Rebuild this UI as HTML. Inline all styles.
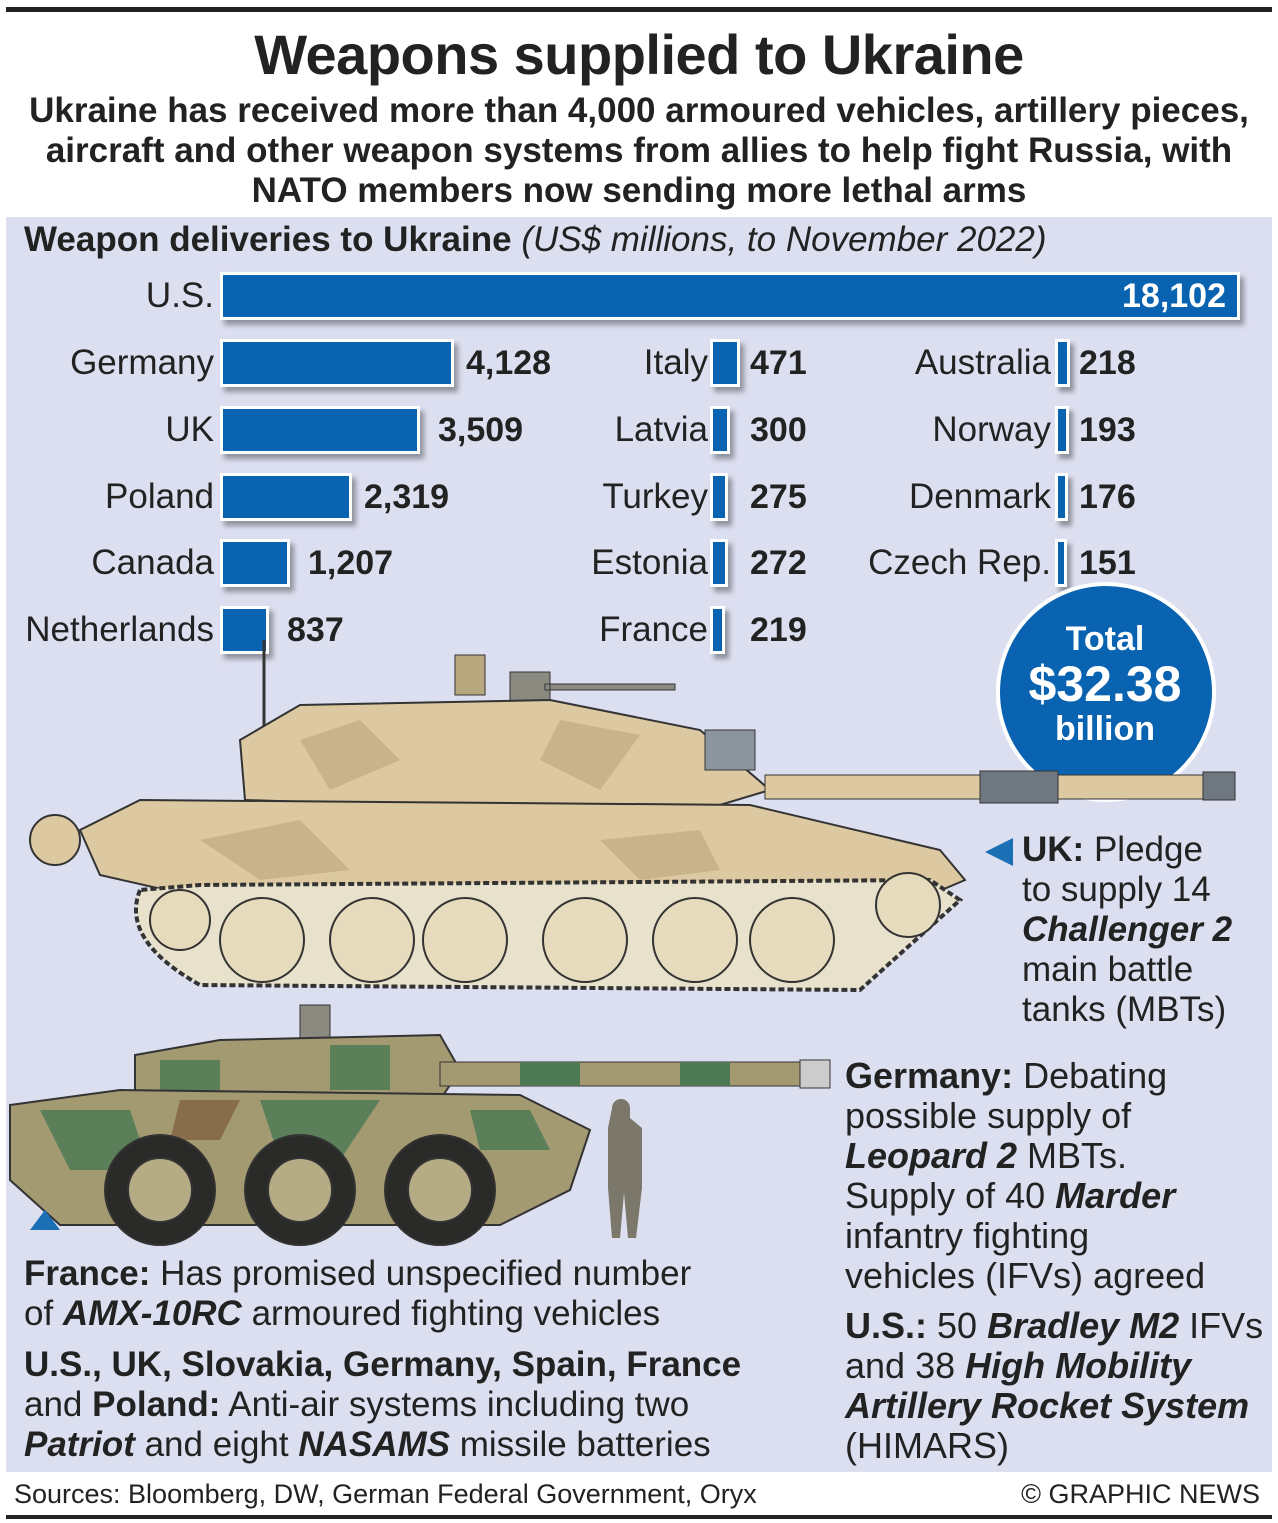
<!DOCTYPE html>
<html><head><meta charset="utf-8"><style>
body{margin:0;width:1278px;height:1523px;background:#fff;position:relative;overflow:hidden;font-family:"Liberation Sans",Arial,sans-serif;color:#222}
.a{position:absolute;white-space:nowrap}
.bar{position:absolute;background:#0a63b0;border:3px solid #fff;box-shadow:4px 5px 5px rgba(0,0,0,.35);box-sizing:border-box;height:48px}
.lab{position:absolute;font-size:35px;text-align:right;width:300px;line-height:48px}
.val{position:absolute;font-size:34px;font-weight:bold;line-height:48px}
.t{font-size:35px;line-height:40px}
</style></head><body>
<div class="a" style="left:6px;top:7px;width:1266px;height:5px;background:#222"></div>
<div class="a" style="left:0;width:1278px;top:22px;text-align:center;font-size:56px;font-weight:bold;letter-spacing:-0.5px">Weapons supplied to Ukraine</div>
<div class="a" style="left:0;width:1278px;top:91px;text-align:center;font-size:35px;font-weight:bold;line-height:40px">Ukraine has received more than 4,000 armoured vehicles, artillery pieces,<br>aircraft and other weapon systems from allies to help fight Russia, with<br>NATO members now sending more lethal arms</div>
<div class="a" style="left:6px;top:217px;width:1266px;height:1255px;background:#dcdff0"></div>
<div class="a" style="left:24px;top:220px;font-size:35px;line-height:40px"><b>Weapon deliveries to Ukraine</b> <i>(US$ millions, to November 2022)</i></div>

<div class="lab" style="left:-86px;top:272px">U.S.</div><div class="bar" style="left:220px;top:272px;width:1020px"></div><div class="val" style="left:1122px;top:272px;color:#fff">18,102</div>

<div class="lab" style="left:-86px;top:339px">Germany</div><div class="bar" style="left:220px;top:339px;width:234px"></div><div class="val" style="left:466px;top:339px">4,128</div>
<div class="lab" style="left:-86px;top:406px">UK</div><div class="bar" style="left:220px;top:406px;width:200px"></div><div class="val" style="left:438px;top:406px">3,509</div>
<div class="lab" style="left:-86px;top:473px">Poland</div><div class="bar" style="left:220px;top:473px;width:132px"></div><div class="val" style="left:364px;top:473px">2,319</div>
<div class="lab" style="left:-86px;top:539px">Canada</div><div class="bar" style="left:220px;top:539px;width:70px"></div><div class="val" style="left:308px;top:539px">1,207</div>
<div class="lab" style="left:-86px;top:606px">Netherlands</div><div class="bar" style="left:220px;top:606px;width:49px"></div><div class="val" style="left:287px;top:606px">837</div>

<div class="lab" style="left:408px;top:339px">Italy</div><div class="bar" style="left:710px;top:339px;width:30px"></div><div class="val" style="left:750px;top:339px">471</div>
<div class="lab" style="left:408px;top:406px">Latvia</div><div class="bar" style="left:710px;top:406px;width:20px"></div><div class="val" style="left:750px;top:406px">300</div>
<div class="lab" style="left:408px;top:473px">Turkey</div><div class="bar" style="left:710px;top:473px;width:18px"></div><div class="val" style="left:750px;top:473px">275</div>
<div class="lab" style="left:408px;top:539px">Estonia</div><div class="bar" style="left:710px;top:539px;width:18px"></div><div class="val" style="left:750px;top:539px">272</div>
<div class="lab" style="left:408px;top:606px">France</div><div class="bar" style="left:710px;top:606px;width:15px"></div><div class="val" style="left:750px;top:606px">219</div>

<div class="lab" style="left:751px;top:339px">Australia</div><div class="bar" style="left:1055px;top:339px;width:15px"></div><div class="val" style="left:1079px;top:339px">218</div>
<div class="lab" style="left:751px;top:406px">Norway</div><div class="bar" style="left:1055px;top:406px;width:14px"></div><div class="val" style="left:1079px;top:406px">193</div>
<div class="lab" style="left:751px;top:473px">Denmark</div><div class="bar" style="left:1055px;top:473px;width:13px"></div><div class="val" style="left:1079px;top:473px">176</div>
<div class="lab" style="left:751px;top:539px">Czech Rep.</div><div class="bar" style="left:1055px;top:539px;width:12px"></div><div class="val" style="left:1079px;top:539px">151</div>

<svg class="a" style="left:0;top:0" width="1278" height="1523">
<circle cx="1106" cy="692" r="108" fill="#0a63b0" stroke="#fff" stroke-width="4"/>
<line x1="264" y1="640" x2="264" y2="735" stroke="#333" stroke-width="3"/>
<rect x="455" y="655" width="30" height="40" fill="#b8a880" stroke="#333"/>
<path d="M510 672h40v30h-40z M545 684h130v6h-130z" fill="#8a8a80" stroke="#333"/>
<path d="M240 740 L300 705 L550 700 L700 730 L770 790 L720 805 L400 805 L245 800Z" fill="#dcc9a2" stroke="#333" stroke-width="2"/>
<path d="M300 740 L360 720 L400 760 L330 790Z M560 720 L640 735 L600 790 L540 760Z" fill="#c3ae86" opacity=".8"/>
<rect x="705" y="730" width="50" height="40" fill="#8c959e" stroke="#333"/>
<rect x="765" y="775" width="220" height="24" fill="#dcc9a2" stroke="#333"/>
<rect x="980" y="771" width="78" height="32" fill="#6f7780" stroke="#333"/>
<rect x="1058" y="775" width="145" height="24" fill="#dcc9a2" stroke="#333"/>
<rect x="1203" y="772" width="32" height="28" fill="#6f7780" stroke="#333"/>
<path d="M80 830 L140 800 L750 805 L940 850 L965 880 L930 895 L210 900 L100 875Z" fill="#dcc9a2" stroke="#333" stroke-width="2"/>
<path d="M200 840 L300 820 L350 870 L260 880Z M600 840 L700 830 L720 870 L640 880Z" fill="#c3ae86" opacity=".8"/>
<circle cx="55" cy="840" r="25" fill="#dcc9a2" stroke="#333" stroke-width="2"/>
<path d="M140 890 Q120 940 200 985 L860 990 L960 900 L930 880 L200 885Z" fill="#e8e2cc" stroke="#333" stroke-width="4" stroke-dasharray="6 3"/>
<g fill="#e6dbbd" stroke="#333" stroke-width="2">
<circle cx="262" cy="940" r="42"/><circle cx="372" cy="940" r="42"/><circle cx="465" cy="940" r="42"/><circle cx="585" cy="940" r="42"/><circle cx="695" cy="940" r="42"/><circle cx="792" cy="940" r="42"/><circle cx="908" cy="905" r="32"/><circle cx="180" cy="920" r="30"/></g>
<rect x="300" y="1005" width="30" height="38" fill="#8a8a80" stroke="#333"/>
<path d="M135 1055 L220 1040 L440 1035 L460 1070 L440 1100 L135 1100Z" fill="#a49a72" stroke="#333" stroke-width="2"/>
<path d="M160 1060 h60 v30 h-60z M330 1045 h60 v45 h-60z" fill="#4d7a55" opacity=".85"/>
<rect x="440" y="1062" width="370" height="24" fill="#a49a72" stroke="#333"/>
<path d="M520 1062h60v24h-60z M680 1062h50v24h-50z" fill="#4d7a55"/>
<rect x="800" y="1060" width="30" height="28" fill="#ccc" stroke="#333"/>
<path d="M10 1105 L120 1090 L520 1095 L590 1130 L570 1190 L500 1225 L60 1225 L10 1180Z" fill="#a49a72" stroke="#333" stroke-width="2"/>
<path d="M40 1110 h90 l20 60 h-80z M260 1100 h120 l-40 60 h-60z M470 1110 h60 l20 40 h-70z" fill="#4d7a55" opacity=".85"/>
<path d="M180 1100 h60 l-20 40 h-50z" fill="#7a5a3a" opacity=".7"/>
<g stroke="#333" stroke-width="2"><circle cx="160" cy="1190" r="55" fill="#2a2a28"/><circle cx="300" cy="1190" r="55" fill="#2a2a28"/><circle cx="440" cy="1190" r="55" fill="#2a2a28"/>
<circle cx="160" cy="1190" r="32" fill="#b5ab85"/><circle cx="300" cy="1190" r="32" fill="#b5ab85"/><circle cx="440" cy="1190" r="32" fill="#b5ab85"/></g>
<path d="M612 1108 a9 9 0 1 1 18 0 v10 l12 10 v60 l-6 50 h-8 l-4-45 l-4 45 h-8 l-4-50 v-60z" fill="#7b786b"/>
<path d="M30 1230 L45 1210 L60 1230Z" fill="#1a6fb5"/>
<path d="M985 852 L1013 838 L1013 866Z" fill="#1a6fb5"/>
</svg>
<div class="a" style="left:1000px;top:620px;width:210px;text-align:center;color:#fff;font-weight:bold;font-size:34px">Total</div>
<div class="a" style="left:995px;top:655px;width:220px;text-align:center;color:#fff;font-weight:bold;font-size:50px">$32.38</div>
<div class="a" style="left:1000px;top:710px;width:210px;text-align:center;color:#fff;font-weight:bold;font-size:34px">billion</div>

<div class="a t" style="left:1022px;top:830px"><b>UK:</b> Pledge<br>to supply 14<br><b><i>Challenger 2</i></b><br>main battle<br>tanks (MBTs)</div>
<div class="a t" style="left:845px;top:1056px;font-size:36px"><b>Germany:</b> Debating<br>possible supply of<br><b><i>Leopard 2</i></b> MBTs.<br>Supply of 40 <b><i>Marder</i></b><br>infantry fighting<br>vehicles (IFVs) agreed</div>
<div class="a t" style="left:845px;top:1306px;font-size:36px"><b>U.S.:</b> 50 <b><i>Bradley M2</i></b> IFVs<br>and 38 <b><i>High Mobility</i></b><br><b><i>Artillery Rocket System</i></b><br>(HIMARS)</div>
<div class="a t" style="left:24px;top:1254px"><b>France:</b> Has promised unspecified number<br>of <b><i>AMX-10RC</i></b> armoured fighting vehicles</div>
<div class="a t" style="left:24px;top:1345px"><b>U.S., UK, Slovakia, Germany, Spain, France</b><br>and <b>Poland:</b> Anti-air systems including two<br><b><i>Patriot</i></b> and eight <b><i>NASAMS</i></b> missile batteries</div>

<div class="a" style="left:14px;top:1479px;font-size:27px">Sources: Bloomberg, DW, German Federal Government, Oryx</div>
<div class="a" style="right:18px;top:1479px;font-size:27px">© GRAPHIC NEWS</div>
<div class="a" style="left:6px;top:1515px;width:1266px;height:4px;background:#222"></div>
</body></html>
